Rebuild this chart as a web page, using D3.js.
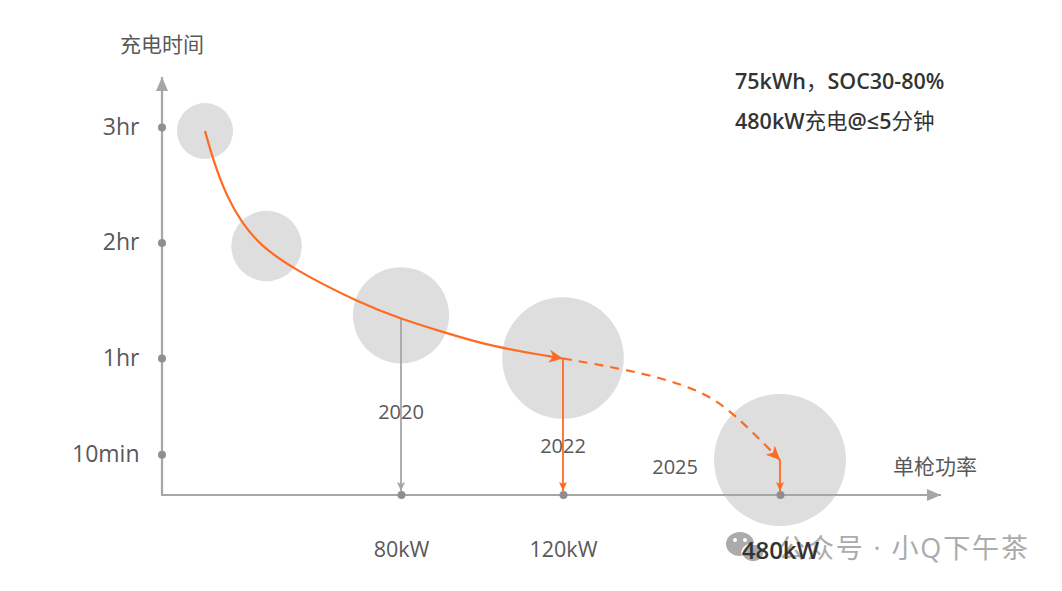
<!DOCTYPE html>
<html>
<head>
<meta charset="utf-8">
<script src="https://cdn.jsdelivr.net/npm/d3@7"></script>
<style>
  html, body { margin: 0; background: #fff; }
  text { font-family: "Open Sans", "Noto Sans CJK SC", sans-serif; }
</style>
</head>
<body>
<script>
const width = 1062
const height = 591

/* Data. */
const yTickHours = [3, 2, 1, 1 / 6]
const yTickLabels = ["3hr", "2hr", "1hr", "10min"]
const xTickPower = [80, 120, 480]
const xTickLabels = ["80kW", "120kW", "480kW"]

const bubblePower = [14.4, 35, 80, 120, 480]
const bubbleHours = [2.965, 1.97, 1.37, 1, 0.117]
const bubbleSize = [18, 28.5, 53, 85, 100]

const solidPower = [14.4, 17.1, 21.7, 26.8, 32.8, 43.8, 66.2, 80, 90.4, 102.7, 120]
const solidHours = [2.965, 2.714, 2.394, 2.169, 1.978, 1.771, 1.476, 1.338, 1.225, 1.095, 0.996]
const dashPower = [120, 219.5, 289, 352, 402, 480]
const dashHours = [0.996, 0.905, 0.818, 0.706, 0.532, 0.117]

const years = ["2020", "2022", "2025"]
const yearPower = [80, 120, 306]
const yearHours = [0.53, 0.24, 0.055]

const dropPower = [80, 120, 480]
const dropHours = [1.338, 0.996, 0.117]

const orange = "#ff6a22"
const axisGrey = "#a6a6a6"
const dotGrey = "#8f8f8f"
const textGrey = "#595959"

/* The power axis is not to scale in the original, so it is piecewise. */
const x = d3.scaleLinear().domain([0, 80, 120, 480]).range([162, 401, 563, 780])
const y = d3.scaleLinear().domain([0, 3]).range([473.5, 127])
const r = d3.scaleSqrt().domain([0, 100]).range([0, 66])

const svg = d3.select("body")
  .append("svg")
  .attr("width", width)
  .attr("height", height)
  .style("display", "block")

/* Arrow heads. */
const defs = svg.append("defs")
function arrow(id, color, w, h, back) {
  defs.append("marker")
    .attr("id", id)
    .attr("markerUnits", "userSpaceOnUse")
    .attr("viewBox", `0 0 ${w} ${h}`)
    .attr("markerWidth", w)
    .attr("markerHeight", h)
    .attr("refX", w)
    .attr("refY", h / 2)
    .attr("orient", "auto")
    .append("path")
    .attr("d", `M0,0L${w},${h / 2}L0,${h}L${back},${h / 2}Z`)
    .attr("fill", color)
}
arrow("axis-head", axisGrey, 14, 12, 0)
arrow("grey-head", axisGrey, 9, 8, 2)
arrow("orange-head", orange, 9, 8, 2)
arrow("curve-head", orange, 14, 13, 4)

/* Bubbles. */
svg.append("g")
  .selectAll("circle")
  .data(bubblePower)
  .join("circle")
  .attr("cx", d => x(d))
  .attr("cy", (d, i) => y(bubbleHours[i]))
  .attr("r", (d, i) => r(bubbleSize[i]))
  .attr("fill", "#dedede")

/* Axes. The baseline sits just under zero hours. */
const baseY = 495
const axisX = 162

svg.append("line")
  .attr("x1", axisX).attr("x2", axisX)
  .attr("y1", baseY).attr("y2", 77)
  .attr("stroke", axisGrey).attr("stroke-width", 2.2)
  .attr("marker-end", "url(#axis-head)")

svg.append("line")
  .attr("x1", axisX - 1).attr("x2", 941)
  .attr("y1", baseY).attr("y2", baseY)
  .attr("stroke", axisGrey).attr("stroke-width", 2.2)
  .attr("marker-end", "url(#axis-head)")

const yAxis = d3.axisLeft(y)
  .tickValues(yTickHours)
  .tickFormat((d, i) => yTickLabels[i])
  .tickSize(0)
  .tickPadding(22.5)

const yG = svg.append("g")
  .attr("transform", `translate(${axisX},0)`)
  .call(yAxis)
yG.select(".domain").remove()
yG.selectAll("text")
  .attr("font-size", 23)
  .attr("fill", textGrey)
  .style("font-family", '"Open Sans", sans-serif')
yG.selectAll(".tick").append("circle")
  .attr("r", 4).attr("fill", dotGrey)

const xAxis = d3.axisBottom(x)
  .tickValues(xTickPower)
  .tickFormat((d, i) => xTickLabels[i])
  .tickSize(0)
  .tickPadding(47)

const xG = svg.append("g")
  .attr("transform", `translate(0,${baseY})`)
  .call(xAxis)
xG.select(".domain").remove()
xG.selectAll("text")
  .attr("font-size", 21.5)
  .attr("fill", textGrey)
  .style("font-family", '"Open Sans", sans-serif')
xG.selectAll(".tick").append("circle")
  .attr("r", 4).attr("fill", dotGrey)

/* Drop lines from the curve to the power axis. */
svg.append("g")
  .selectAll("line")
  .data(dropPower)
  .join("line")
  .attr("x1", d => x(d))
  .attr("x2", d => x(d))
  .attr("y1", (d, i) => y(dropHours[i]))
  .attr("y2", baseY - 4)
  .attr("stroke", (d, i) => i === 0 ? axisGrey : orange)
  .attr("stroke-width", 1.8)
  .attr("marker-end", (d, i) => i === 0 ? "url(#grey-head)" : "url(#orange-head)")

/* Charging curve: solid up to today, dashed for the outlook. */
const curve = d3.line()
  .x(d => x(d[0]))
  .y(d => y(d[1]))
  .curve(d3.curveBasis)

svg.append("path")
  .attr("d", curve(d3.zip(solidPower, solidHours)))
  .attr("fill", "none")
  .attr("stroke", orange)
  .attr("stroke-width", 2.2)
  .attr("marker-end", "url(#curve-head)")

svg.append("path")
  .attr("d", curve(d3.zip(dashPower, dashHours)))
  .attr("fill", "none")
  .attr("stroke", orange)
  .attr("stroke-width", 2.2)
  .attr("stroke-dasharray", "9 7")
  .attr("marker-end", "url(#curve-head)")

/* Year labels. */
svg.append("g")
  .selectAll("text")
  .data(years)
  .join("text")
  .attr("x", (d, i) => x(yearPower[i]))
  .attr("y", (d, i) => y(yearHours[i]))
  .attr("text-anchor", "middle")
  .attr("dy", "0.35em")
  .attr("font-size", 20)
  .attr("fill", textGrey)
  .text(d => d)

/* Axis titles and the note. */
svg.append("text")
  .attr("x", 120).attr("y", 52)
  .attr("font-size", 21).attr("fill", textGrey)
  .text("充电时间")

svg.append("text")
  .attr("x", 893).attr("y", 474)
  .attr("font-size", 21).attr("fill", textGrey)
  .text("单枪功率")

const note1 = svg.append("text")
  .attr("x", 735).attr("y", 89)
  .attr("font-size", 21.5).attr("font-weight", 600).attr("fill", "#333")
note1.append("tspan").text("75kWh")
note1.append("tspan").attr("font-weight", 400).text("，")
note1.append("tspan").text("SOC30-80%")

const note2 = svg.append("text")
  .attr("x", 735).attr("y", 129)
  .attr("font-size", 21.5).attr("font-weight", 600).attr("fill", "#333")
note2.append("tspan").text("480kW")
note2.append("tspan").attr("font-weight", 400).text("充电")
note2.append("tspan").text("@≤5")
note2.append("tspan").attr("font-weight", 400).text("分钟")

/* Watermark, under the 480kW label. */
const mark = svg.append("g").attr("fill", "#ababab")
mark.append("ellipse").attr("cx", 740).attr("cy", 544).attr("rx", 14).attr("ry", 12)
mark.append("ellipse").attr("cx", 753).attr("cy", 553).attr("rx", 11).attr("ry", 9)
  .attr("stroke", "#fff").attr("stroke-width", 1.5)
mark.append("circle").attr("cx", 735).attr("cy", 540).attr("r", 2).attr("fill", "#fff")
mark.append("circle").attr("cx", 745).attr("cy", 540).attr("r", 2).attr("fill", "#fff")

svg.append("text")
  .attr("x", 778).attr("y", 558)
  .attr("font-size", 27).attr("fill", "#ababab")
  .attr("textLength", 250)
  .text("公众号 · 小Q下午茶")

xG.raise()
xG.selectAll("text")
  .filter((d, i) => i === 2)
  .attr("font-size", 24)
  .attr("font-weight", 600)
  .attr("fill", "#333")
</script>
</body>
</html>
